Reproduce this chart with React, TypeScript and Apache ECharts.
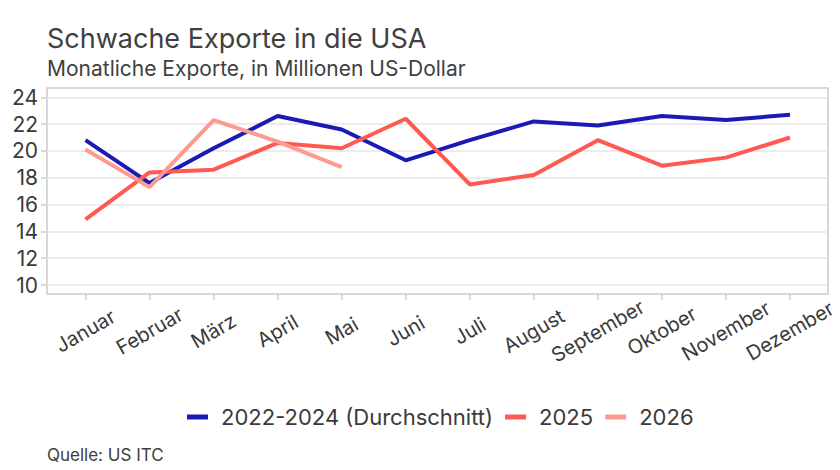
import React, { useEffect, useRef } from "react";
import * as echarts from "echarts";

const categories = ["Januar", "Februar", "März", "April", "Mai", "Juni", "Juli", "August", "September", "Oktober", "November", "Dezember"];
const seriesNames = ["2022-2024 (Durchschnitt)", "2025", "2026"];
const avg2022to2024 = [20.8, 17.6, 20.2, 22.6, 21.6, 19.3, 20.8, 22.2, 21.9, 22.6, 22.3, 22.7];
const values2025 = [14.9, 18.4, 18.6, 20.6, 20.2, 22.4, 17.5, 18.2, 20.8, 18.9, 19.5, 21.0];
const values2026 = [20.1, 17.3, 22.3, 20.7, 18.8];
const yMin = 10;
const yMax = 24;
const yInterval = 2;

const colors = ["#1a1ab4", "#ff5a52", "#ff9a90"];
const FONT = "Inter";
const TEXT = "#3a3a3a";

export default function App() {
  const ref = useRef<HTMLDivElement>(null);
  useEffect(() => {
    if (!ref.current) return;
    const chart = echarts.init(ref.current, null, { renderer: "svg" });
    const gridTop = 97.3;
    const gridBottom = 185;
    chart.setOption({
      animation: false,
      textStyle: { fontFamily: FONT },
      grid: [
        { left: 85.5, right: 50, top: gridTop, bottom: gridBottom },
        { left: 47, right: 12, top: gridTop, bottom: gridBottom },
      ],
      xAxis: [
        {
          gridIndex: 0,
          type: "category",
          data: categories,
          boundaryGap: false,
          offset: 9,
          axisLine: { show: false },
          axisTick: { show: true, length: 6, lineStyle: { color: "#cccccc", width: 1.5 } },
          axisLabel: {
            interval: 0,
            rotate: 30,
            align: "center",
            verticalAlign: "middle",
            margin: 37,
            fontSize: 20,
            color: TEXT,
            fontFamily: FONT,
            hideOverlap: false,
          },
          splitLine: { show: false },
        },
        { gridIndex: 1, type: "value", show: false },
      ],
      yAxis: [
        { gridIndex: 0, type: "value", min: yMin, max: yMax, interval: yInterval, show: false },
        {
          gridIndex: 1,
          type: "value",
          min: yMin,
          max: yMax,
          interval: yInterval,
          axisLine: { show: false },
          axisTick: { show: true, length: 6, lineStyle: { color: "#cccccc", width: 1.5 } },
          axisLabel: { fontSize: 21, color: TEXT, margin: 9, fontFamily: FONT },
          splitLine: { show: true, lineStyle: { color: "#e6e6e6", width: 1.5 } },
        },
      ],
      legend: {
        data: seriesNames,
        icon: "rect",
        itemWidth: 21,
        itemHeight: 5,
        itemGap: 12,
        left: 187,
        top: 406,
        padding: 0,
        textStyle: { fontSize: 22, color: TEXT, fontFamily: FONT, padding: [0, 0, 0, 8] },
      },
      graphic: [
        {
          type: "rect",
          shape: { x: 47, y: 88, width: 781, height: 206 },
          style: { fill: "none", stroke: "#cccccc", lineWidth: 1.5 },
          silent: true,
          z: -1,
        },
        {
          type: "text",
          x: 47,
          y: 38,
          style: { text: "Schwache Exporte in die USA", font: `27px ${FONT}`, fill: "#404040", verticalAlign: "middle" },
        },
        {
          type: "text",
          x: 47,
          y: 68,
          style: { text: "Monatliche Exporte, in Millionen US-Dollar", font: `21px ${FONT}`, fill: "#404040", verticalAlign: "middle" },
        },
        {
          type: "text",
          x: 47,
          y: 455,
          style: { text: "Quelle: US ITC", font: `17px ${FONT}`, fill: "#404040", verticalAlign: "middle" },
        },
      ],
      series: [
        {
          name: seriesNames[0],
          type: "line",
          data: avg2022to2024,
          symbol: "none",
          lineStyle: { width: 4, color: colors[0] },
          itemStyle: { color: colors[0] },
          z: 2,
        },
        {
          name: seriesNames[1],
          type: "line",
          data: values2025,
          symbol: "none",
          lineStyle: { width: 4, color: colors[1] },
          itemStyle: { color: colors[1] },
          z: 3,
        },
        {
          name: seriesNames[2],
          type: "line",
          data: values2026,
          symbol: "none",
          lineStyle: { width: 4, color: colors[2] },
          itemStyle: { color: colors[2] },
          z: 4,
        },
      ],
    });
    return () => chart.dispose();
  }, []);
  return <div ref={ref} style={{ position: "absolute", left: 0, top: 0, width: 840, height: 470 }} />;
}
